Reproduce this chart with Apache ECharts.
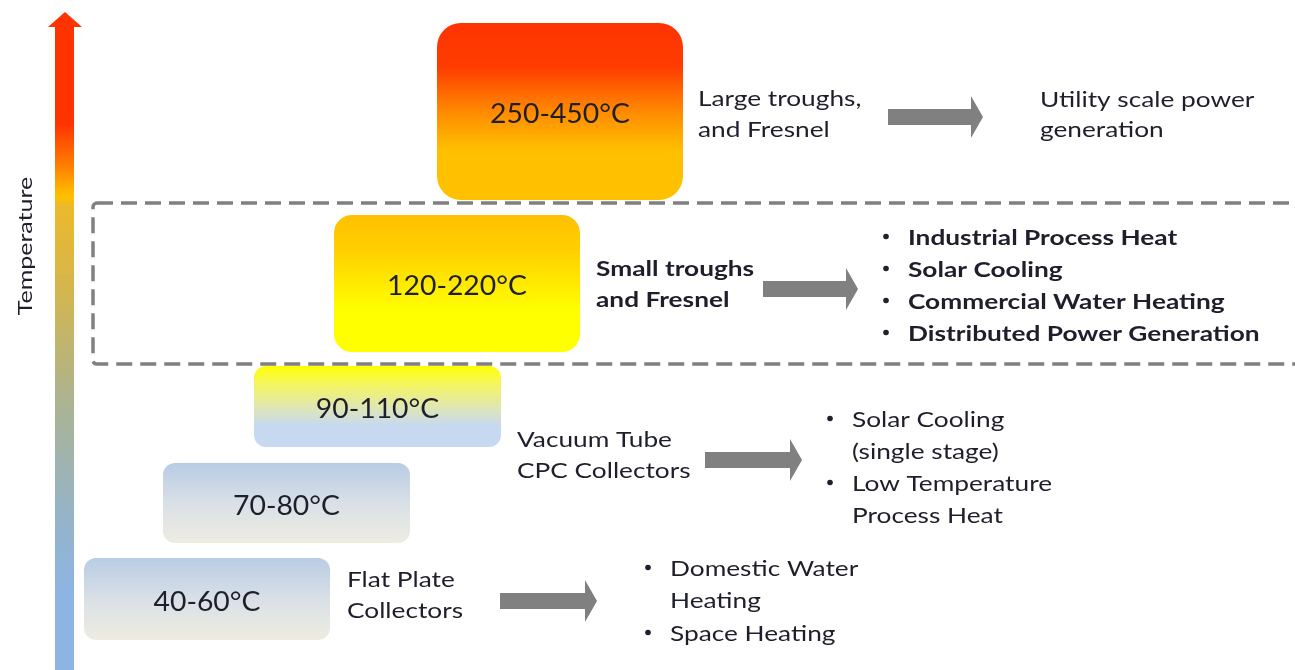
<!DOCTYPE html>
<html>
<head>
<meta charset="utf-8">
<script src="https://cdn.jsdelivr.net/npm/echarts@6/dist/echarts.min.js"></script>
<style>
  html, body { margin: 0; padding: 0; background: #ffffff; }
  #main { width: 1295px; height: 670px; }
</style>
</head>
<body>
<div id="main"></div>
<script>
// ---- content ----
const axisTitle = 'Temperature';
// operating temperature range of each collector tier, coolest first
const rangeLabels = ['40-60°C', '70-80°C', '90-110°C', '120-220°C', '250-450°C'];
// collector technology for each group
const collectorLabels = ['Flat Plate\nCollectors', 'Vacuum Tube\nCPC Collectors', 'Small troughs\nand Fresnel', 'Large troughs,\nand Fresnel'];
// applications served by each collector group
const applications = [
  ['Domestic Water\nHeating', 'Space Heating'],
  ['Solar Cooling\n(single stage)', 'Low Temperature\nProcess Heat'],
  ['Industrial Process Heat', 'Solar Cooling', 'Commercial Water Heating', 'Distributed Power Generation'],
  ['Utility scale power\ngeneration']
];

// ---- layout (diagram units: 0..1295 across, 0..670 down) ----
const boxRects = [[84, 558, 330, 640], [163, 463, 410, 543], [254, 366, 501, 447], [334, 215, 580, 352], [437, 23, 683, 200]];
const boxRadius = [12, 12, 12, 18, 24];
const boxStops = [
  [[0, '#b8cce4'], [0.5, '#d9e0e6'], [1, '#eeece1']],
  [[0, '#b8cce4'], [0.5, '#d9e0e6'], [1, '#eeece1']],
  [[0, '#ffff00'], [0.2, '#f6f658'], [0.5, '#e0e7b0'], [0.74, '#c6d9f1'], [1, '#c6d9f1']],
  [[0, '#ffc000'], [0.25, '#ffcf00'], [0.7, '#ffff00'], [1, '#ffff00']],
  [[0, '#ff3300'], [0.25, '#ff3c00'], [0.5, '#ff8a00'], [0.72, '#ffc000'], [1, '#ffc000']]
];
const collectorAnchors = [[347, 596, false], [517, 456, false], [596, 285, true], [698, 115, false]];
const arrowAnchors = [[500, 597, 601], [705, 802, 460], [763, 858, 289], [888, 983, 117]];
const appLayout = [
  { bulletX: 645, textX: 670, firstY: 569, step: 32.5, bold: false, bullet: true },
  { bulletX: 827, textX: 852, firstY: 420, step: 32, bold: false, bullet: true },
  { bulletX: 883, textX: 908, firstY: 238, step: 32, bold: true, bullet: true },
  { bulletX: 1040, textX: 1040, firstY: 100, step: 30, bold: false, bullet: false }
];
const frameRect = [93, 203, 1320, 364];
const tempArrow = { x0: 55, x1: 74, headX0: 48, headX1: 82, tipY: 12, headY: 27, bottomY: 670 };
const tempTitlePos = [26, 246];

const FONT = 'Lato, "Open Sans", sans-serif';
const TEXT_COLOR = '#1e1e2c';
const TEXT_STRETCH = 1.25;   // side texts are set wide
const LABEL_STRETCH = 1.05;
const LABEL_DROP = 3;        // range labels sit slightly below box centre

// flatten application text into individual lines with bullets on the first line of each item
const appLines = [];
applications.forEach((items, t) => {
  const L = appLayout[t];
  let k = 0;
  items.forEach(item => {
    item.split('\n').forEach((line, j) => {
      appLines.push({ value: [L.textX, L.firstY + k * L.step], text: line, bold: L.bold,
                      bulletX: (L.bullet && j === 0) ? L.bulletX : null });
      k++;
    });
  });
});

const chart = echarts.init(document.getElementById('main'), null, { renderer: 'canvas' });

const option = {
  backgroundColor: '#ffffff',
  animation: false,
  grid: { left: 0, right: 0, top: 0, bottom: 0 },
  xAxis: { type: 'value', min: 0, max: 1295, show: false },
  yAxis: { type: 'value', min: 0, max: 670, inverse: true, show: false },
  series: [
    // dashed frame around the mid-temperature tier
    {
      type: 'custom', clip: false, silent: true,
      data: [frameRect],
      renderItem: (params, api) => {
        const a = api.coord([api.value(0), api.value(1)]);
        const b = api.coord([api.value(2), api.value(3)]);
        return {
          type: 'rect',
          shape: { x: a[0], y: a[1], width: b[0] - a[0], height: b[1] - a[1], r: 4 },
          style: { fill: 'none', stroke: '#808080', lineWidth: 3.5, lineDash: [16, 8] }
        };
      }
    },
    // temperature scale arrow
    {
      type: 'custom', clip: false, silent: true,
      data: [[tempArrow.x0, tempArrow.x1, tempArrow.headX0, tempArrow.headX1, tempArrow.tipY, tempArrow.headY, tempArrow.bottomY]],
      renderItem: (params, api) => {
        const v = i => api.value(i);
        const pts = [
          [v(0), v(6)], [v(0), v(5)], [v(2), v(5)], [(v(2) + v(3)) / 2, v(4)],
          [v(3), v(5)], [v(1), v(5)], [v(1), v(6)]
        ].map(p => api.coord(p));
        return {
          type: 'polygon',
          shape: { points: pts },
          style: {
            fill: new echarts.graphic.LinearGradient(0, 0, 0, 1, [
              { offset: 0, color: '#ff3300' },
              { offset: 0.17, color: '#ff3300' },
              { offset: 0.23, color: '#ff7a00' },
              { offset: 0.28, color: '#ffc000' },
              { offset: 0.295, color: '#ecb92c' },
              { offset: 0.42, color: '#d4b64e' },
              { offset: 0.6, color: '#aab394' },
              { offset: 0.76, color: '#96b3c6' },
              { offset: 0.88, color: '#8db4e2' },
              { offset: 1, color: '#8db4e2' }
            ])
          }
        };
      }
    },
    // axis title
    {
      type: 'custom', clip: false, silent: true,
      data: [tempTitlePos],
      renderItem: (params, api) => {
        const p = api.coord([api.value(0), api.value(1)]);
        return {
          type: 'text', x: p[0], y: p[1], rotation: Math.PI / 2, scaleX: 1.25,
          style: { text: axisTitle, x: 0, y: 0, align: 'center', verticalAlign: 'middle',
                   font: '20px ' + FONT, fill: TEXT_COLOR }
        };
      }
    },
    // temperature range boxes
    {
      type: 'custom', clip: false, silent: true,
      data: boxRects,
      renderItem: (params, api) => {
        const i = params.dataIndex;
        const a = api.coord([api.value(0), api.value(1)]);
        const b = api.coord([api.value(2), api.value(3)]);
        return {
          type: 'group',
          children: [
            {
              type: 'rect',
              shape: { x: a[0], y: a[1], width: b[0] - a[0], height: b[1] - a[1], r: boxRadius[i] },
              style: { fill: new echarts.graphic.LinearGradient(0, 0, 0, 1,
                boxStops[i].map(s => ({ offset: s[0], color: s[1] }))) }
            },
            {
              type: 'text', x: (a[0] + b[0]) / 2, y: (a[1] + b[1]) / 2 + LABEL_DROP, scaleX: LABEL_STRETCH,
              style: { text: rangeLabels[i], x: 0, y: 0,
                       align: 'center', verticalAlign: 'middle', font: '27px ' + FONT, fill: TEXT_COLOR }
            }
          ]
        };
      }
    },
    // collector names
    {
      type: 'custom', clip: false, silent: true,
      data: collectorAnchors.map(c => [c[0], c[1]]),
      renderItem: (params, api) => {
        const i = params.dataIndex;
        const p = api.coord([api.value(0), api.value(1)]);
        return {
          type: 'text', x: p[0], y: p[1], scaleX: TEXT_STRETCH,
          style: { text: collectorLabels[i], x: 0, y: 0, align: 'left', verticalAlign: 'middle',
                   lineHeight: 31, font: (collectorAnchors[i][2] ? 'bold ' : '') + '21px ' + FONT, fill: TEXT_COLOR }
        };
      }
    },
    // block arrows from collectors to applications
    {
      type: 'custom', clip: false, silent: true,
      data: arrowAnchors,
      renderItem: (params, api) => {
        const x0 = api.value(0), x1 = api.value(1), yc = api.value(2);
        const shaft = 8, head = 21, headLen = 12;
        const pts = [
          [x0, yc - shaft], [x1 - headLen, yc - shaft], [x1 - headLen, yc - head], [x1, yc],
          [x1 - headLen, yc + head], [x1 - headLen, yc + shaft], [x0, yc + shaft]
        ].map(p => api.coord(p));
        return { type: 'polygon', shape: { points: pts }, style: { fill: '#808080' } };
      }
    },
    // application lists
    {
      type: 'custom', clip: false, silent: true,
      data: appLines.map(l => l.value),
      renderItem: (params, api) => {
        const l = appLines[params.dataIndex];
        const p = api.coord([api.value(0), api.value(1)]);
        const font = (l.bold ? 'bold ' : '') + '21px ' + FONT;
        const children = [{
          type: 'text', x: p[0], y: p[1], scaleX: TEXT_STRETCH,
          style: { text: l.text, x: 0, y: 0, align: 'left', verticalAlign: 'middle', font, fill: TEXT_COLOR }
        }];
        if (l.bulletX !== null) {
          const b = api.coord([l.bulletX, api.value(1)]);
          children.push({
            type: 'circle',
            shape: { cx: b[0] + 3, cy: b[1] - 1.5, r: 2.8 },
            style: { fill: TEXT_COLOR }
          });
        }
        return { type: 'group', children };
      }
    }
  ]
};

chart.setOption(option);
</script>
</body>
</html>
